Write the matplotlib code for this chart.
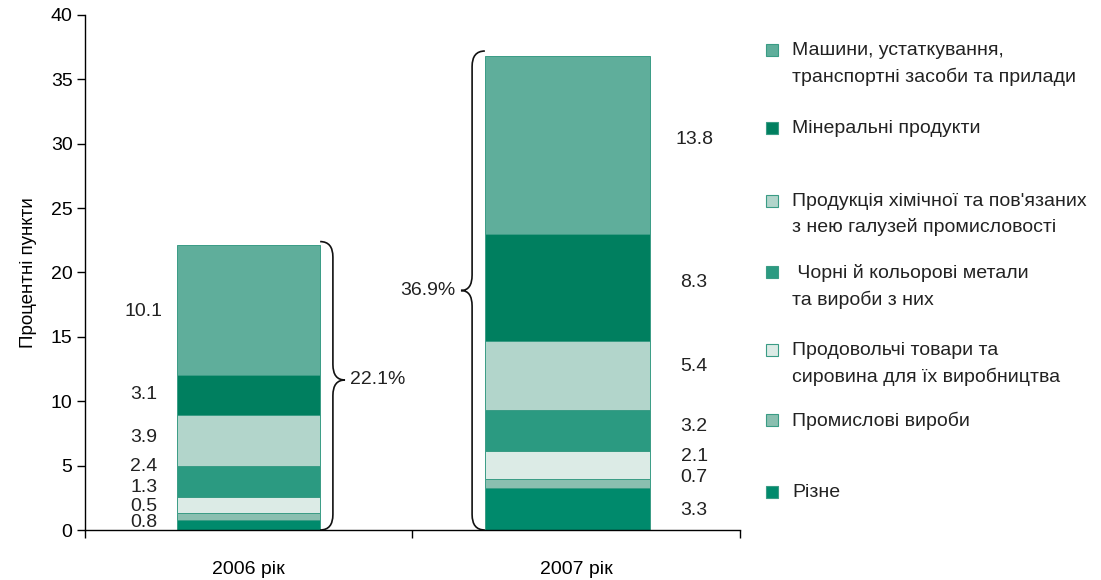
import numpy as np
import matplotlib.pyplot as plt
from matplotlib.path import Path
from matplotlib.patches import PathPatch, Rectangle

plt.rcParams['font.family'] = ['Liberation Sans', 'DejaVu Sans']

# data (bottom -> top of stack)
years = ['2006 рік', '2007 рік']
categories = ['Різне', 'Промислові вироби',
              'Продовольчі товари та\nсировина для їх виробництва',
              ' Чорні й кольорові метали\nта вироби з них',
              "Продукція хімічної та пов'язаних\nз нею галузей промисловості",
              'Мінеральні продукти',
              'Машини, устаткування,\nтранспортні засоби та прилади']
vals_2006 = [0.8, 0.5, 1.3, 2.4, 3.9, 3.1, 10.1]
vals_2007 = [3.3, 0.7, 2.1, 3.2, 5.4, 8.3, 13.8]
totals = ['22.1%', '36.9%']
colors = ['#008a6c', '#8abfb0', '#dcebe6', '#2b9a81', '#b2d5cb', '#007f5f', '#5fae9b']

# layout
bar_x = [0.5, 1.473]
bar_w = [0.437, 0.504]
lab_y_2006 = [0.6, 1.8, 3.3, 4.9, 7.2, 10.5, 17.0]
lab_y_2007 = [1.55, 4.1, 5.7, 8.0, 12.7, 19.2, 30.3]
fs = 14

fig = plt.figure(figsize=(11.01, 5.80), dpi=100)
ax = fig.add_axes([0.0772, 0.0862, 0.5949, 0.888])

for xi, w, vals in zip(bar_x, bar_w, [vals_2006, vals_2007]):
    bottom = 0
    for v, c in zip(vals, colors):
        ax.bar(xi, v, width=w, bottom=bottom, color=c, edgecolor='#3a9c85', linewidth=0.7)
        bottom += v

# value labels
for v, y in zip(vals_2006, lab_y_2006):
    ax.text(0.18, y, f'{v:.1f}', ha='center', va='center', fontsize=fs, color='#222222')
for v, y in zip(vals_2007, lab_y_2007):
    ax.text(1.86, y, f'{v:.1f}', ha='center', va='center', fontsize=fs, color='#222222')


def brace(x0, xm, xt, y0, y1, ym, r):
    verts = [(x0, y0), (xm, y0), (xm, y0 + r), (xm, ym - r), (xm, ym), (xt, ym),
             (xm, ym), (xm, ym + r), (xm, y1 - r), (xm, y1), (x0, y1)]
    codes = [Path.MOVETO, Path.CURVE3, Path.CURVE3, Path.LINETO, Path.CURVE3, Path.CURVE3,
             Path.CURVE3, Path.CURVE3, Path.LINETO, Path.CURVE3, Path.CURVE3]
    ax.add_patch(PathPatch(Path(verts, codes), facecolor='none', edgecolor='#111111',
                           linewidth=1.2, clip_on=False))


brace(0.718, 0.757, 0.794, 0.0, sum(vals_2006) + 0.3, 11.65, 1.2)
ax.text(0.81, 11.65, totals[0], ha='left', va='center', fontsize=fs, color='#222222')
brace(1.221, 1.182, 1.148, 0.0, sum(vals_2007) + 0.4, 18.6, 1.2)
ax.text(1.13, 18.6, totals[1], ha='right', va='center', fontsize=fs, color='#222222')

ax.set_xlim(0, 2)
ax.set_ylim(0, 40)
ax.set_yticks(np.arange(0, 41, 5))
ax.set_xticks([0, 1, 2])
ax.set_xticklabels([])
ax.set_xticks([0.5, 1.5], minor=True)
ax.set_xticklabels(years, minor=True)
ax.tick_params(axis='x', which='minor', length=0, pad=22, labelsize=fs)
ax.tick_params(axis='x', which='major', length=6, direction='out', width=1)
ax.tick_params(axis='y', length=6, direction='out', width=1, labelsize=fs, pad=3)
ax.set_ylabel('Процентні пункти', fontsize=13.5, labelpad=10)
for s in ['top', 'right']:
    ax.spines[s].set_visible(False)
for s in ['left', 'bottom']:
    ax.spines[s].set_linewidth(1)

# legend (top -> bottom)
leg_y = [50, 128, 201, 272, 350, 420, 492]
for lab, c, yp in zip(categories[::-1], colors[::-1], leg_y):
    yf = 1 - yp / 580
    fig.patches.append(Rectangle((766 / 1101, yf - 6 / 580), 12 / 1101, 12 / 580,
                                 transform=fig.transFigure, facecolor=c,
                                 edgecolor='#3a9c85', linewidth=0.8))
    fig.text(792 / 1101, yf + 8 / 580, lab, ha='left', va='top', fontsize=fs,
             color='#222222', linespacing=1.6)

fig.savefig('out.png', dpi=100)
